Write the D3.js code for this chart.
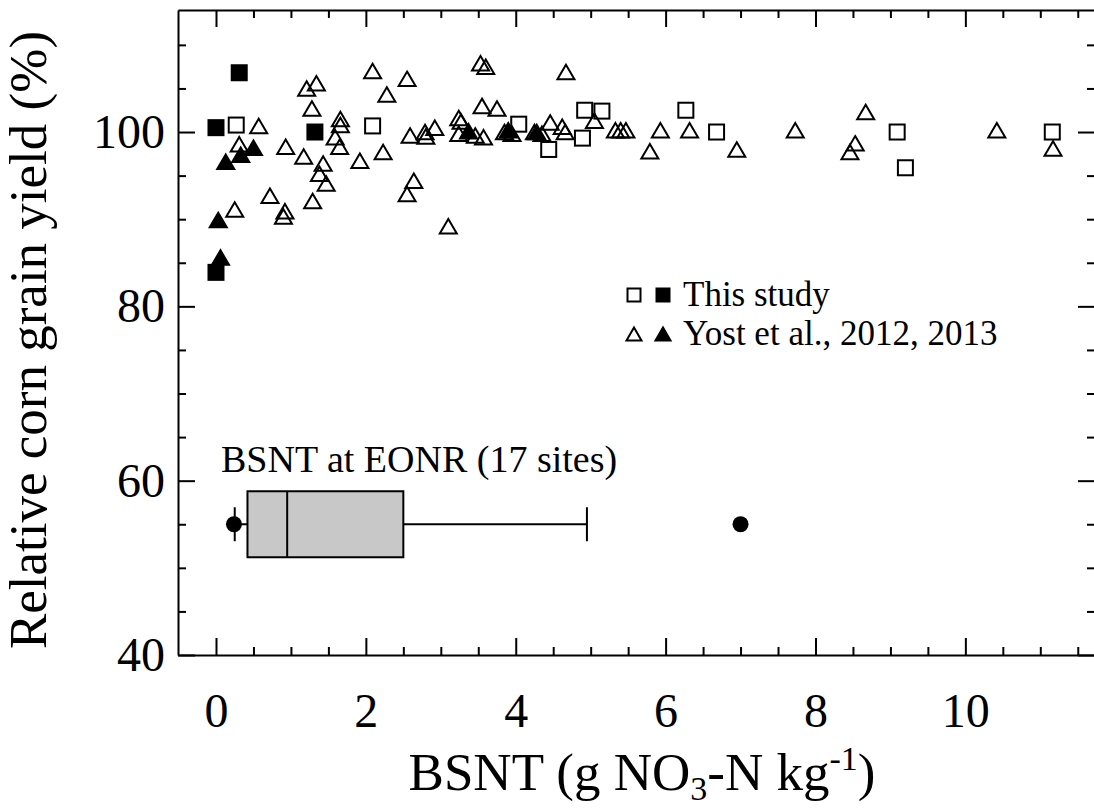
<!DOCTYPE html>
<html>
<head>
<meta charset="utf-8">
<script src="https://cdn.jsdelivr.net/npm/d3@7"></script>
<style>
  html, body { margin: 0; padding: 0; background: #fff; }
  svg { display: block; }
  text { font-family: "Liberation Serif", "Times New Roman", serif; fill: #000; }
</style>
</head>
<body>
<svg id="chart" width="1094" height="808"></svg>
<script>
// ---------------- data ----------------
const thisStudyOpen = [
  [0.27,100.8],[2.09,100.7],[4.04,100.9],[4.44,98.0],[4.92,102.5],[5.15,102.4],
  [4.89,99.3],[6.27,102.5],[6.68,100.0],[9.09,100.0],[9.20,95.9],[11.16,100.0]
];
const thisStudyFilled = [
  [0.00,100.5],[0.31,106.8],[1.32,100.0],[0.00,83.9]
];
const yostOpen = [
  [0.57,100.7],[0.31,98.6],[1.21,105.0],[1.34,105.6],[2.09,107.0],[2.28,104.3],
  [1.28,102.7],[1.66,101.5],[1.66,100.8],[1.59,99.4],[1.65,98.3],[0.93,98.3],
  [1.17,97.2],[1.43,96.4],[1.38,95.2],[1.47,94.1],[1.92,96.7],[2.23,97.7],
  [0.72,92.7],[0.25,91.1],[0.92,90.9],[0.90,90.3],[1.29,92.1],[2.55,106.1],
  [3.53,107.9],[3.60,107.5],[4.67,106.9],[3.55,103.0],[3.75,102.7],[3.24,101.6],
  [3.27,101.2],[3.24,99.8],[3.46,99.6],[3.57,99.4],[2.59,99.6],[2.79,100.0],
  [2.80,99.5],[2.92,100.5],[3.85,100.0],[3.95,99.8],[4.25,100.0],[4.35,99.8],
  [4.46,101.1],[4.62,100.6],[4.66,100.0],[5.05,101.3],[5.33,100.2],[5.40,100.2],
  [5.47,100.2],[5.93,100.2],[5.79,97.8],[6.32,100.2],[6.95,98.0],[7.73,100.2],
  [8.67,102.3],[8.53,98.7],[8.46,97.7],[10.42,100.2],[11.17,98.1],[2.64,94.4],
  [2.55,92.9],[3.10,89.2]
];
const yostFilled = [
  [0.50,98.2],[0.33,97.4],[0.13,96.6],[0.03,89.9],[0.06,85.6],
  [3.37,100.1],[3.90,100.2],[4.28,100.0]
];
// box plot of BSNT at EONR (17 sites), drawn at yield = 55
const boxStats = { low: 0.25, q1: 0.42, median: 0.95, q3: 2.50, high: 4.95 };
const boxOutliers = [0.24, 7.00];
const boxLevel = 55;
const boxLabel = "BSNT at EONR (17 sites)";

const xMajorTicks = [0, 2, 4, 6, 8, 10];
const xMinorTicks = [0.5,1,1.5,2.5,3,3.5,4.5,5,5.5,6.5,7,7.5,8.5,9,9.5,10.5,11,11.5];
const yMajorTicks = [40, 60, 80, 100];
const yMinorTicks = [45,50,55,65,70,75,85,90,95,105,110];
const xDomain = [-0.507, 11.73];
const yDomain = [40, 114];

const legendItems = [
  { label: "This study", shape: "square" },
  { label: "Yost et al., 2012, 2013", shape: "triangle" }
];

// ---------------- layout ----------------
const svg = d3.select("#chart");
const L = 178, R = 1095, T = 10, B = 655;
const x = d3.scaleLinear().domain(xDomain).range([L, R]);
const y = d3.scaleLinear().domain(yDomain).range([B, T]);

const SQ = 15;           // square side
const TW = 17, TH = 14.5; // triangle width / height
function trianglePath(cx, cy, w, h) {
  return `M${cx},${cy - h/2}L${cx + w/2},${cy + h/2}L${cx - w/2},${cy + h/2}Z`;
}

// ---------------- axes ----------------
function styleAxis(g) {
  g.selectAll("path.domain").attr("stroke", "#000").attr("stroke-width", 2);
  g.selectAll(".tick line").attr("stroke", "#000").attr("stroke-width", 2);
  g.selectAll(".tick text").style("font-family", '"Liberation Serif","Times New Roman",serif')
    .attr("fill", "#000");
}
// bottom
svg.append("g").attr("transform", `translate(0,${B})`)
  .call(d3.axisBottom(x).tickValues(xMajorTicks).tickSizeInner(-17).tickSizeOuter(0)
        .tickPadding(38).tickFormat(d3.format("d")))
  .call(styleAxis)
  .call(g => g.selectAll(".tick text").attr("font-size", 48));
svg.append("g").attr("transform", `translate(0,${B})`)
  .call(d3.axisBottom(x).tickValues(xMinorTicks).tickSizeInner(-8).tickSizeOuter(0).tickFormat(""))
  .call(styleAxis).call(g => g.select(".domain").remove());
// top
svg.append("g").attr("transform", `translate(0,${T})`)
  .call(d3.axisTop(x).tickValues(xMajorTicks).tickSizeInner(-17).tickSizeOuter(0).tickFormat(""))
  .call(styleAxis);
svg.append("g").attr("transform", `translate(0,${T})`)
  .call(d3.axisTop(x).tickValues(xMinorTicks).tickSizeInner(-8).tickSizeOuter(0).tickFormat(""))
  .call(styleAxis).call(g => g.select(".domain").remove());
// left
svg.append("g").attr("transform", `translate(${L},0)`)
  .call(d3.axisLeft(y).tickValues(yMajorTicks).tickSizeInner(-17).tickSizeOuter(0)
        .tickPadding(13).tickFormat(d3.format("d")))
  .call(styleAxis)
  .call(g => g.selectAll(".tick text").attr("font-size", 48));
svg.append("g").attr("transform", `translate(${L},0)`)
  .call(d3.axisLeft(y).tickValues(yMinorTicks).tickSizeInner(-8).tickSizeOuter(0).tickFormat(""))
  .call(styleAxis).call(g => g.select(".domain").remove());
// right
svg.append("g").attr("transform", `translate(${R},0)`)
  .call(d3.axisRight(y).tickValues(yMajorTicks).tickSizeInner(-17).tickSizeOuter(0).tickFormat(""))
  .call(styleAxis);
svg.append("g").attr("transform", `translate(${R},0)`)
  .call(d3.axisRight(y).tickValues(yMinorTicks).tickSizeInner(-8).tickSizeOuter(0).tickFormat(""))
  .call(styleAxis).call(g => g.select(".domain").remove());

// ---------------- axis titles ----------------
const xt = svg.append("text").attr("x", 642).attr("y", 790)
  .attr("text-anchor", "middle").attr("font-size", 53);
xt.append("tspan").text("BSNT (g NO");
xt.append("tspan").attr("font-size", 34).attr("dy", 10).text("3");
xt.append("tspan").attr("dy", -10).text("-N kg");
xt.append("tspan").attr("font-size", 34).attr("dy", -20).text("-1");
xt.append("tspan").attr("dy", 20).text(")");

svg.append("text")
  .attr("transform", "translate(46,340) rotate(-90)")
  .attr("text-anchor", "middle").attr("font-size", 53)
  .text("Relative corn grain yield (%)");

// ---------------- points ----------------
const pts = svg.append("g");
pts.selectAll("path.yo").data(yostOpen).join("path").attr("class", "yo")
  .attr("d", d => trianglePath(x(d[0]), y(d[1]), TW, TH))
  .attr("fill", "none").attr("stroke", "#000").attr("stroke-width", 2);
pts.selectAll("rect.so").data(thisStudyOpen).join("rect").attr("class", "so")
  .attr("x", d => x(d[0]) - SQ/2).attr("y", d => y(d[1]) - SQ/2)
  .attr("width", SQ).attr("height", SQ)
  .attr("fill", "none").attr("stroke", "#000").attr("stroke-width", 2);
pts.selectAll("path.yf").data(yostFilled).join("path").attr("class", "yf")
  .attr("d", d => trianglePath(x(d[0]), y(d[1]), TW, TH))
  .attr("fill", "#000").attr("stroke", "#000").attr("stroke-width", 2);
pts.selectAll("rect.sf").data(thisStudyFilled).join("rect").attr("class", "sf")
  .attr("x", d => x(d[0]) - SQ/2).attr("y", d => y(d[1]) - SQ/2)
  .attr("width", SQ).attr("height", SQ)
  .attr("fill", "#000").attr("stroke", "#000").attr("stroke-width", 2);

// ---------------- box plot ----------------
const by = y(boxLevel);
const bp = svg.append("g");
bp.append("line").attr("x1", x(boxStats.low)).attr("x2", x(boxStats.q1))
  .attr("y1", by).attr("y2", by).attr("stroke", "#000").attr("stroke-width", 2);
bp.append("line").attr("x1", x(boxStats.q3)).attr("x2", x(boxStats.high))
  .attr("y1", by).attr("y2", by).attr("stroke", "#000").attr("stroke-width", 2);
[boxStats.low, boxStats.high].forEach(v => {
  bp.append("line").attr("x1", x(v)).attr("x2", x(v))
    .attr("y1", by - 17).attr("y2", by + 17).attr("stroke", "#000").attr("stroke-width", 2);
});
bp.append("rect").attr("x", x(boxStats.q1)).attr("y", by - 33)
  .attr("width", x(boxStats.q3) - x(boxStats.q1)).attr("height", 66)
  .attr("fill", "#c8c8c8").attr("stroke", "#000").attr("stroke-width", 2);
bp.append("line").attr("x1", x(boxStats.median)).attr("x2", x(boxStats.median))
  .attr("y1", by - 33).attr("y2", by + 33).attr("stroke", "#000").attr("stroke-width", 2);
bp.selectAll("circle").data(boxOutliers).join("circle")
  .attr("cx", d => x(d)).attr("cy", by).attr("r", 8).attr("fill", "#000");
bp.append("text").attr("x", 221).attr("y", 472).attr("font-size", 38).text(boxLabel);

// ---------------- legend ----------------
const lg = svg.append("g");
const legRows = [295, 334];
const LS = 13;
legendItems.forEach((it, i) => {
  const cy = legRows[i];
  if (it.shape === "square") {
    lg.append("rect").attr("x", 634 - LS/2).attr("y", cy - LS/2).attr("width", LS).attr("height", LS)
      .attr("fill", "none").attr("stroke", "#000").attr("stroke-width", 2);
    lg.append("rect").attr("x", 663 - LS/2).attr("y", cy - LS/2).attr("width", LS).attr("height", LS)
      .attr("fill", "#000").attr("stroke", "#000").attr("stroke-width", 2);
  } else {
    lg.append("path").attr("d", trianglePath(634, cy, 15, 13))
      .attr("fill", "none").attr("stroke", "#000").attr("stroke-width", 2);
    lg.append("path").attr("d", trianglePath(663, cy, 15, 13))
      .attr("fill", "#000").attr("stroke", "#000").attr("stroke-width", 2);
  }
  lg.append("text").attr("x", 683).attr("y", cy + 11).attr("font-size", 35).text(it.label);
});
</script>
</body>
</html>
